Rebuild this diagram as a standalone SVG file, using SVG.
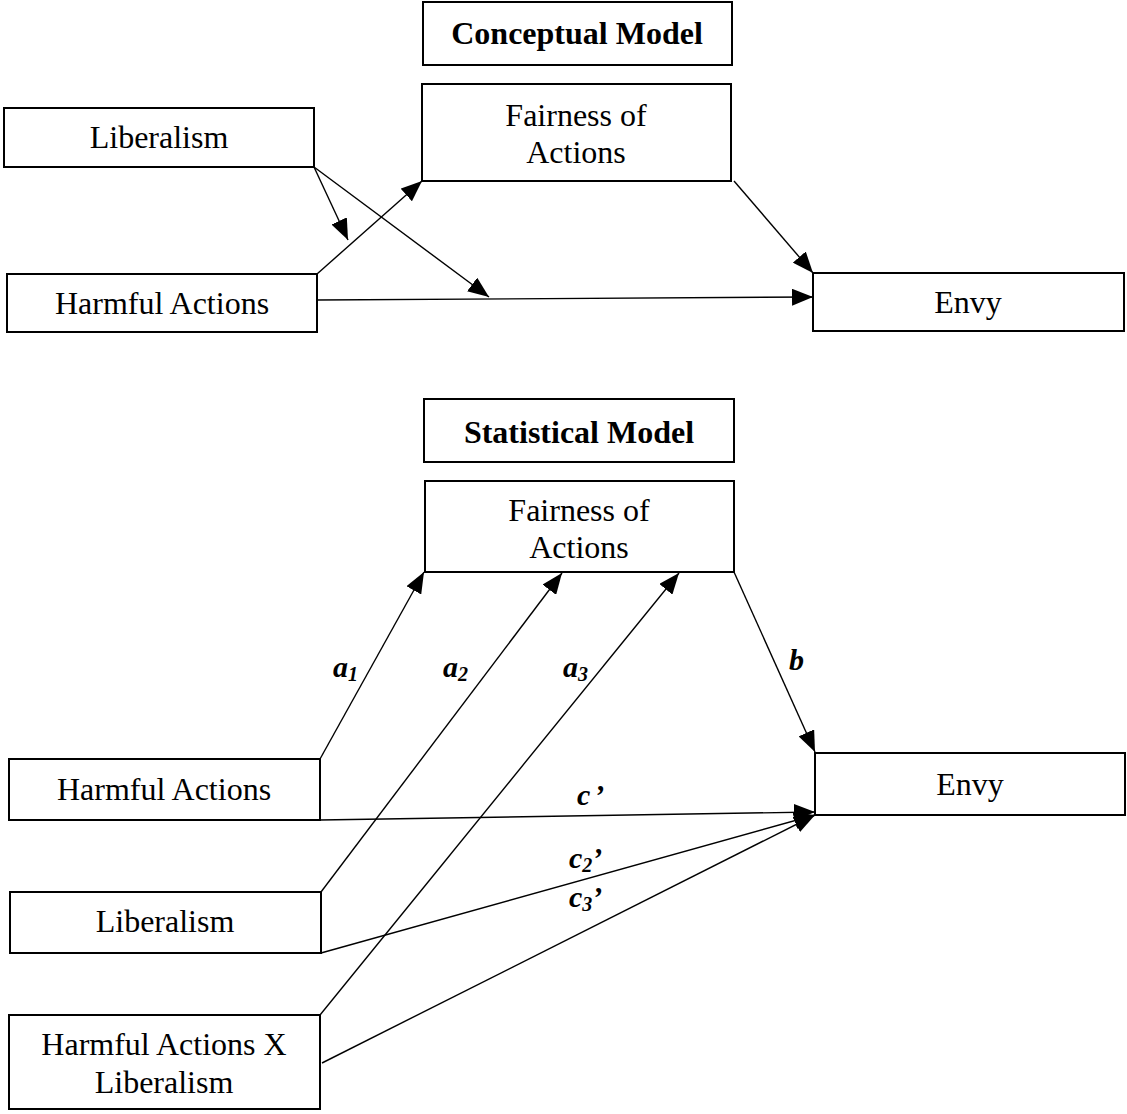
<svg xmlns="http://www.w3.org/2000/svg" width="1127" height="1114" viewBox="0 0 1127 1114">
<style>
.box{fill:#fff;stroke:#000;stroke-width:2}
.t{font-family:"Liberation Serif","Times New Roman",serif;font-size:32px;text-anchor:middle;fill:#000}
.b{font-weight:bold}
.lbl{font-family:"Liberation Serif","Times New Roman",serif;font-size:30px;font-weight:bold;font-style:italic;fill:#000}
.ln{stroke:#000;stroke-width:1.4;fill:none;marker-end:url(#ah)}
</style>
<defs>
<marker id="ah" markerUnits="userSpaceOnUse" markerWidth="22" markerHeight="17" refX="21" refY="8.5" orient="auto">
<path d="M0,0 L21,8.5 L0,17 Z" fill="#000"/>
</marker>
</defs>
<rect width="1127" height="1114" fill="#fff"/>
<g id="connectors">
<line class="ln" x1="314" y1="167" x2="348" y2="240"/>
<line class="ln" x1="314" y1="167" x2="489" y2="297"/>
<line class="ln" x1="317" y1="274" x2="422" y2="181"/>
<line class="ln" x1="317" y1="300" x2="813" y2="297"/>
<line class="ln" x1="734" y1="181" x2="813" y2="273"/>
<line class="ln" x1="320" y1="759" x2="424" y2="572"/>
<line class="ln" x1="321" y1="892" x2="562" y2="573"/>
<line class="ln" x1="320" y1="1015" x2="679" y2="573"/>
<line class="ln" x1="734" y1="572" x2="815" y2="752"/>
<line class="ln" x1="320" y1="820" x2="815" y2="812"/>
<line class="ln" x1="321" y1="953" x2="815" y2="815"/>
<line class="ln" x1="322" y1="1063" x2="815" y2="815"/>
</g>
<g id="title-conceptual"><rect class="box" x="423" y="2" width="309" height="63"/><text class="t b" x="577" y="44">Conceptual Model</text></g>
<g id="fairness-top"><rect class="box" x="422" y="84" width="309" height="97"/><text class="t" x="576" y="126">Fairness of</text><text class="t" x="576" y="163">Actions</text></g>
<g id="liberalism-top"><rect class="box" x="4" y="108" width="310" height="59"/><text class="t" x="159" y="148">Liberalism</text></g>
<g id="harmful-top"><rect class="box" x="7" y="274" width="310" height="58"/><text class="t" x="162" y="314">Harmful Actions</text></g>
<g id="envy-top"><rect class="box" x="813" y="273" width="311" height="58"/><text class="t" x="968" y="313">Envy</text></g>
<g id="title-statistical"><rect class="box" x="424" y="399" width="310" height="63"/><text class="t b" x="579" y="443">Statistical Model</text></g>
<g id="fairness-bottom"><rect class="box" x="425" y="481" width="309" height="91"/><text class="t" x="579" y="521">Fairness of</text><text class="t" x="579" y="558">Actions</text></g>
<g id="harmful-bottom"><rect class="box" x="9" y="759" width="311" height="61"/><text class="t" x="164" y="800">Harmful Actions</text></g>
<g id="envy-bottom"><rect class="box" x="815" y="753" width="310" height="62"/><text class="t" x="970" y="795">Envy</text></g>
<g id="liberalism-bottom"><rect class="box" x="10" y="892" width="311" height="61"/><text class="t" x="165" y="932">Liberalism</text></g>
<g id="interaction"><rect class="box" x="9" y="1015" width="311" height="94"/><text class="t" x="164" y="1055">Harmful Actions X</text><text class="t" x="164" y="1093">Liberalism</text></g>
<g id="labels">
<text class="lbl" x="333" y="677">a<tspan font-size="20" dy="4">1</tspan></text>
<text class="lbl" x="443" y="677">a<tspan font-size="20" dy="4">2</tspan></text>
<text class="lbl" x="563" y="677">a<tspan font-size="20" dy="4">3</tspan></text>
<text class="lbl" x="789" y="670">b</text>
<text class="lbl" x="577" y="805">c<tspan dx="4">’</tspan></text>
<text class="lbl" x="569" y="868">c<tspan font-size="20" dy="4">2</tspan><tspan dy="-4">’</tspan></text>
<text class="lbl" x="569" y="907">c<tspan font-size="20" dy="4">3</tspan><tspan dy="-4">’</tspan></text>
</g>
</svg>
